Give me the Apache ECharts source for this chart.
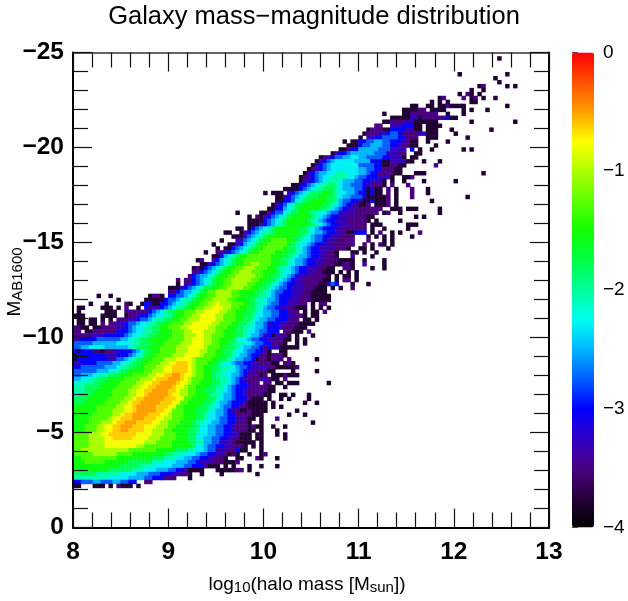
<!DOCTYPE html>
<html><head><meta charset="utf-8">
<style>html,body{margin:0;padding:0;background:#fff}#c{width:628px;height:601px}</style>
<script src="https://cdn.jsdelivr.net/npm/echarts@6/dist/echarts.min.js"></script>
</head><body><div id="c"></div>
<script>
// 120 x 120 histogram cells, one entry per row (row 0 = M -25).
// token = column + level letter. lowercase: run up to next token; UPPERCASE: single cell; ".": gap.
const levelValues = {a:-3.78,b:-3.5,c:-3.3,d:-3.0,e:-2.75,f:-2.5,g:-2.3,h:-2.05,i:-1.8,j:-1.55,k:-1.3,l:-1.02,m:-0.78,n:-0.62,o:-0.5,p:-0.44};
const rowRuns = [
"1|107A","5|97A 109A","6|106A","7|107A","8|102A 103B 109A 111A","9|100A 103A",
"10|97A 99B 100A 102A","11|92A 93B 98B 100A 101B 103A 106A","12|90A 92A 94A 100a 102.",
"13|85a 87. 89a 91. 92a 94b 95a 99. 109A","14|83a 87b 89. 90a 92. 92a 94. 98A 100A 104A",
"15|78A 83a 85b 89b 91b 92. 94A 98A","16|80a 85c 87A 88b 92b 94D 95a 97.",
"17|78a 80b 84c 86a 89. 89a 92. 100A 111A","18|76b 78. 80c 83d 86a 88. 89a 93.",
"19|74a 75b 78a 80d 84c 86a 88. 89a 92. 95A 105A","20|73A 74b 77c 79d 80e 82d 83b 87c 89a 92. 96A",
"21|72A 74c 76d 78e 82d 84b 87. 89a 92. 99A","22|68A 70a 72d 74e 76f 78e 80d 83c 84b 85a 87. 89A 94A",
"23|69A 70a 72d 73e 75f 78e 80d 82c 83b 85a 87. 91A","24|67a 69b 70d 72f 77e 80c 84. 85D 87A 90A 98A 100A",
"25|65a 66c 67d 69e 70f 76e 79c 82b 84. 86a 88.","26|62a 63b 64c 65d 66e 68f 70g 72f 74e 78d 80c 83a 84. 85a 87.",
"27|61a 62c 63d 64e 65f 66g 71f 75d 78a 80c 84a 86. 88A 92A","28|60a 61c 62d 63e 64f 65g 72e 76d 78a 80b 82a 84. 91B",
"29|59a 60b 61c 62d 63e 64f 65g 72f 74e 76d 78b 81a 83.","30|58a 59c 60d 61e 62f 64g 66h 69g 72f 74e 75d 77b 81a 83. 86a 89. 103A",
"31|57a 58b 59c 60d 61e 62f 63g 65h 69g 71f 72e 74d 77c 80a 81. 83a 85B",
"32|57a 58c 60d 61e 62f 63g 64h 67g 68f 71e 73d 75c 78a 79. 80A 83A 88A 96A",
"33|55a 57d 59e 60f 61g 62h 64i 66h 67g 68f 70e 73d 74c 75b 78a 79. 80B 84B",
"34|53a 57d 58e 59f 60g 61h 63i 66h 67g 68f 71e 73d 74a 75d 76a 78. 79B 81A 85B 89A",
"35|48A 50a 53. 54c 55d 56e 57f 58g 59h 60i 63j 65i 66h 67g 69f 71e 72d 74a 75d 76a 78. 79B 81A 85B 89A",
"36|51a 53c 54d 55e 56f 57g 58h 59i 62j 64i 66h 67g 68f 70e 73d 74a 79B 81A 85B 99A",
"37|51a 53d 55e 56g 57h 58i 60j 64i 66h 67f 68e 70d 72c 73a 75d 76a 79B 81A 90A",
"38|50a 51c 52d 53e 54g 55h 56i 58j 63i 65h 66g 67f 68e 69d 70c 72a 74b 75. 76a 79B 81A",
"39|49a 51d 53f 54g 55h 56i 57j 62i 64h 65g 66f 67e 68d 69c 71b 78. 80a 83. 84a 87. 92A",
"40|41A 47a 49b 50d 51e 53g 54h 55i 57j 59i 60h 62g 64f 65e 67c 71b 77. 78A 79B 82A 92A",
"41|44A 46b 47a 48c 49d 50e 51f 52g 53h 54i 55j 60i 61h 62g 63f 64e 65d 67c 69b 74a 76. 86A 88A",
"42|44A 45a 47a 48d 49e 50f 51g 52h 53i 54j 59i 60h 61g 62f 63e 64d 66c 69b 74A 76A 82A",
"43|44a 47c 48d 49e 50f 51g 52h 53i 54j 59i 61h 62g 63f 64e 65d 67c 70b 74. 75a 78. 84a 87.",
"44|41a 43. 44A 45d 46e 47f 48g 49h 50i 51j 57i 59h 60g 61f 62e 63d 66c 68b 74. 75A 78A 84A",
"45|38a 40. 42A 43c 44d 45e 46f 47g 48h 50i 51j 57i 59h 60g 61f 63e 64d 66c 68b 69a 71d 74. 75A 77B 80A 82A 87B",
"46|40a 43c 44e 45f 46g 47h 48i 49j 56i 58h 59g 60f 61e 63d 65c 67b 71. 74A 76A 78A 80A 85A",
"47|37A 41c 43e 44f 45g 46h 47i 48j 50k 54j 56i 57h 58g 60f 61e 63d 64c 66b 71. 74B 78A 80A",
"48|35A 39a 41c 42d 43f 44g 45h 46i 47j 49k 54j 55i 56h 57g 59f 60e 61d 63c 65b 71. 73B 75A 77B 78A 80A",
"49|36A 38a 40d 41e 42f 43g 44h 45i 46j 48k 53j 54i 56h 57g 58f 59e 60d 62c 66b 69a 70. 72a 74. 75A 79A",
"50|33A 36b 38c 39d 40e 41f 42g 43h 44i 45j 47k 51j 54i 56h 57g 58f 59e 60d 62c 64b 66a 67. 70a 72. 73A 76A",
"51|35a 37d 38f 39g 40h 41i 42j 44k 50j 53i 55h 56g 57f 59e 60d 62c 64b 66a 67. 70C 75A",
"52|31A 32B 35B 36d 37f 38g 39h 40i 41j 43k 50j 52i 54h 55g 56f 58e 59d 61c 63b 67a 71. 73A 78a 79.",
"53|32a 34c 35d 36e 37f 38g 39h 40i 41j 43k 45l 47k 50j 52i 54h 55g 56f 58e 59d 61c 63b 66a 68b 70a 71. 73C 78A",
"54|30A 31B 32A 33d 34e 35f 36g 37h 38i 39j 41k 43l 46k 49j 51i 52h 54g 55f 56e 57d 59c 62b 64a 66. 68b 70a 71. 75A 78A",
"55|30b 32d 33e 34f 35g 36h 37i 38j 40k 42l 45k 48j 51i 52h 53g 55f 56e 57d 59c 61b 63a 66. 67A 69A 71A",
"56|29B 30d 31e 32f 34g 35h 36i 37j 39k 41l 46k 48j 50i 52h 53g 54f 55e 56d 57c 59b 64a 65. 66A 68a 70. 71A",
"57|26B 28b 30d 31e 32f 33g 34h 35i 36j 38k 40l 45k 47j 49i 51h 52g 53f 54e 55d 56c 58b 63a 65. 66A 68b 70. 71A",
"58|26A 28b 29c 30d 31e 32f 33g 34h 35i 36j 38k 40l 44k 46j 48i 50h 51g 52f 53e 54d 56c 58b 62a 64c 65e 66d 67. 70a 71. 74A",
"59|24a 27c 28d 29e 30f 31g 32h 33i 35j 37k 39l 43k 45j 47i 49h 50g 51f 52e 54d 55c 58b 61a 64. 65A 67A 70B",
"60|24b 26d 27e 28f 30g 31h 32i 33j 34k 36l 40k 42j 46i 48h 49g 50f 51e 53d 55c 58b 60a 64.",
"61|6A 9A 19A 20b 22A 24d 26e 28f 29g 30h 31i 32j 34k 36l 40k 42j 45i 47h 49g 50f 51e 52d 55c 57b 60a 65.",
"62|11A 18a 23d 24e 26f 27g 28h 30i 31j 33k 35l 39k 41j 44i 46h 48g 49f 51e 52d 54c 57b 60a 65.",
"63|4A 8A 13B 14A 17A 18d 20a 22d 24e 25f 26g 27h 29i 30j 32k 34l 36m 37l 40k 43j 45i 46h 48g 49f 50e 52d 54c 56b 59. 60A 62b 64.",
"64|1a 3. 7a 10. 11A 13B 16A 18d 19b 20c 22d 23e 24f 25g 26h 28i 29j 31k 33l 35m 38l 40k 42j 44i 46h 47g 48f 49e 51d 52c 54b 56a 59. 60A 62A 64A",
"65|1A 8a 11. 13b 19d 20e 21f 22g 23h 24i 26j 28k 31l 33m 37l 39k 41j 44i 46h 47g 48f 50e 52d 54c 55b 57. 58A 60a 62. 63B",
"66|0A 1a 3. 7a 11. 13A 14b 16c 17d 19e 20f 21g 23h 25i 26j 28k 30l 32m 36l 38k 41j 43i 45h 46g 48f 50e 52d 54c 56b 58a 59. 60a 62.",
"67|1a 3. 4a 6. 7A 9A 11b 14c 16d 17e 19f 20g 21h 23i 25j 27k 29l 32m 36l 38k 41j 43i 45h 46g 47f 49e 51d 54c 55b 57. 58a 60. 61A",
"68|1a 3. 4a 6. 7B 9b 11c 13d 14e 16f 17g 19h 21i 23j 25k 28l 30m 35l 37k 40j 42i 44h 45g 46f 48e 49c 50d 52c 54b 57a 61.",
"69|0b 2a 4. 5a 7b 11c 13d 14e 15f 16g 18h 20i 22j 24k 27l 29m 34l 36k 39j 41i 43h 45g 46f 48e 49d 52c 53b 56a 59.",
"70|0b 2. 3a 5b 11d 14e 15f 16g 18h 20i 22j 25k 28l 30m 33l 36k 38j 41i 43h 44g 46f 47e 49d 52. 53b 55a 56. 56a 58. 59B",
"71|0b 4c 8d 13e 14f 15g 17h 19i 21j 25k 28l 31m 33l 35k 38j 41i 43h 44g 45f 47e 48c 49d 50a 51c 53b 54a 55. 56A 60A",
"72|0c 2d 6e 12f 14g 15h 17i 19j 24k 28l 30m 33l 35k 37j 40i 41h 42g 44f 45e 47d 49c 51b 53a 55. 56A 58A",
"73|0e 5f 11g 15h 17i 20j 23k 27l 30m 33l 35k 37j 39i 41h 43g 45f 46e 48d 50b 53a 54. 56A 58A",
"74|0e 2f 4g 8f 14g 15h 16i 19j 22k 26l 29m 33l 34k 37j 39i 41h 42g 43f 45e 47d 48b 49d 50c 52a 57.",
"75|0d 1a 2d 3. 3d 5b 7a 8b 10c 12d 15e 16f 17h 18i 20j 22k 26l 29m 32l 34k 36j 38i 40h 41g 43f 44e 46d 48b 49a 50. 52a 54.",
"76|0a 1d 8c 11d 14e 15f 16g 17h 18i 19j 21k 25l 28m 32l 33k 36j 38i 40h 41g 42f 44e 45d 47b 49a 50b 53A",
"77|0a 1d 9c 11e 13f 14g 15h 16i 18j 20k 23l 26m 30l 31k 35j 37i 39h 40g 41f 43e 45d 46a 47b 49a 50b 53. 54B 61A",
"78|0c 2d 6e 10f 12g 13h 15i 17j 19k 22l 24m 26n 29m 30l 31k 34j 36i 37h 38g 40f 41e 43d 45c 47b 50a 52. 53b 55a 56.",
"79|0d 2e 8f 11g 12h 14i 16j 18k 21l 23m 25n 29m 30l 31k 33j 35i 37h 40g 41f 42e 44d 45c 49b 51a 56B",
"80|0e 6f 9g 11h 12i 14j 18k 20l 23m 25n 29m 30l 31k 33j 35i 37h 39g 41f 42e 43d 44c 46b 49a 51. 55A 61A",
"81|0e 2f 5g 7h 9i 12j 15k 19l 21m 23n 25o 27n 28m 30l 31k 33j 35i 36h 38g 40f 42e 43d 44b 47a 48b 49. 50a 53B 54a 57.",
"82|0f 2g 4h 6i 9j 13k 17l 20m 21n 24o 27n 28m 29l 30k 33j 35i 37h 39g 40f 41e 42d 43b 47c 49b 50a 52. 53B",
"83|0g 1h 5i 8j 12k 16l 18m 20n 22o 26n 27m 29l 30k 32j 35i 37h 39g 40f 41e 42d 44b 47. 48b 50. 51A 52A 54a 57. 64A",
"84|0h 3i 7j 11k 15l 17m 19n 21o 25n 26m 28l 29k 31j 34i 36h 38g 39f 40e 41d 44c 45b 49a 51. 53A",
"85|0h 3i 6j 10k 14l 16m 18n 20o 24n 26m 27l 29k 31j 33i 36h 38g 39f 40e 41d 43c 44b 49a 51.",
"86|0h 2i 5j 10k 14l 16m 18n 19o 24n 25m 27l 29k 31j 34i 35h 37g 38f 40e 41d 43c 44b 48a 50. 52a 54. 55A 59A",
"87|0i 4j 9k 13l 15m 16n 18o 23n 26m 28k 30j 34i 36h 37g 38f 40e 41d 44b 45a 48. 49A 52A 54A 59A",
"88|0i 3j 8k 12l 14m 15n 17o 22n 25m 27k 29j 33i 35h 36g 37f 39e 40d 43b 44a 49. 50A 58A 61A",
"89|0j 6k 11l 13m 15n 16o 21n 24m 26k 28j 32i 34h 36g 37f 38e 40d 42b 44a 49. 50A 52A",
"90|0j 6k 10l 13m 15n 16o 21n 23m 25k 28j 31i 34h 35g 36f 38e 39d 40b 42a 44b 45a 49. 56A",
"91|0j 5k 10l 12m 13n 15o 19n 22m 24l 25k 28j 31i 33h 34g 36f 38e 39d 41b 45a 48. 54A 58A",
"92|0j 4k 9l 10m 12n 15o 18n 21m 23l 25k 28j 31i 33h 34g 36f 37e 39d 41c 43b 44a 46. 47A 51B",
"93|0j 4k 7l 10m 11n 13o 16n 20m 22l 24k 27j 30i 31h 33g 35f 37e 39d 41b 44a 45. 47A 60A",
"94|0j 3k 6l 8m 10n 12o 15n 18m 21l 24k 26j 30i 32g 34f 36e 38d 40c 41b 44a 45b 46a 48. 50A 53A",
"95|0j 3k 6l 8m 10n 12o 14n 18m 20l 23k 25j 29i 31h 32g 34f 36e 38d 40c 41b 44a 46. 47A 51A",
"96|0k 4l 7m 9n 16m 20l 23k 26j 29i 31h 32g 34f 36e 38d 40c 42a 45. 46a 48. 51A 53A",
"97|0k 4l 8m 10n 15m 19l 22k 26j 29i 31g 33f 35e 37d 39c 41b 42a 45. 46a 48. 53A",
"98|0k 4l 8m 18l 21k 25j 29i 31h 33f 35e 37c 40b 41a 46. 47A",
"99|0k 4l 8m 16l 18k 25j 30i 31g 33f 34e 36d 38c 40b 43a 44. 45A 47A",
"100|0k 2l 14k 21j 26i 29h 31g 33f 34e 36c 39b 41d 42a 44. 47A",
"101|0k 5l 11k 15j 23i 25h 28g 31f 32e 34d 36c 38b 39a 40b 41a 42. 44A 47A 48B",
"102|0j 2k 11j 20i 23h 26g 28f 30e 32d 34c 36b 38a 39. 41a 43. 46B 47A 51A",
"103|0j 3k 8j 14i 20h 23g 26f 29e 31d 32c 35b 38a 41B",
"104|0j 12i 17h 20g 25f 28e 30d 33b 34a 37. 38A 40A 44A 47A 51A",
"105|0j 9i 15h 18g 21f 24e 26d 28c 29a 33. 36A 37a 41b 43. 44A",
"106|0i 6h 12g 16f 19e 22d 25c 27b 29a 30. 32A 37A 46A",
"107|0h 9g 14f 18e 20d 23b 26. 29A",
"108|0d 2e 5f 7e 10f 12e 14d 16. 18b 20.",
"109|0a 2. 5a 8. 9A 11b 12a 15. 16A"
];
const xTickLabels = [8,9,10,11,12,13];
const yTickLabels = [-25,-20,-15,-10,-5,0];
const colorbarTicks = [-4,-3,-2,-1,0];
const paletteStops = ['#000000','#26003a','#4b0082','#3000c8','#0000ff','#005eff','#00b5ff','#00fff0','#00ff9c','#00ff45','#10ff00','#5eff00','#adff00','#ffff00','#ff9f00','#ff5000','#ff0000'];
const N = 120;
const xBins = Array.from({length:N},(_,i)=>i);
const yBins = Array.from({length:N},(_,i)=>i);

const cells = [];
rowRuns.forEach(s=>{
  const [r,body] = s.split('|');
  const toks = body.trim().split(/\s+/).map(t=>{const m=t.match(/^(\d+)(.)$/);return {c:+m[1],l:m[2]};});
  toks.forEach((t,i)=>{
    if(t.l==='.') return;
    if(t.l===t.l.toUpperCase()){cells.push([t.c,+r,levelValues[t.l.toLowerCase()]]);return;}
    const end = i+1<toks.length?toks[i+1].c:t.c+1;
    for(let c=t.c;c<end;c++) cells.push([c,+r,levelValues[t.l]]);
  });
});

const FONT='"Liberation Sans",Arial,sans-serif';
const minus = v=> v<0 ? '\u2212'+(-v) : String(v);
const tick = {show:true,inside:true,length:19,lineStyle:{color:'#111',width:1.2}};
const minor = {show:true,splitNumber:5,length:15,lineStyle:{color:'#111',width:1.2}};
const line = {show:true,onZero:false,lineStyle:{color:'#000',width:2}};
const off = {show:false};
const nameRich = {m:{fontFamily:FONT,fontSize:19,color:'#000'},s:{fontFamily:FONT,fontSize:15,color:'#000',verticalAlign:'bottom',padding:[6,0,0,0]}};
const chart = echarts.init(document.getElementById('c'),null,{renderer:'canvas'});
chart.setOption({
  animation:false,
  backgroundColor:'#fff',
  textStyle:{fontFamily:FONT},
  title:{text:'Galaxy mass\u2212magnitude distribution',left:309,top:-1,textAlign:'center',
    textStyle:{fontFamily:FONT,fontWeight:'normal',fontSize:25.5,color:'#000'}},
  grid:[{left:73,top:52.5,width:476,height:475,outerBoundsMode:'none'},
        {left:572,top:52.5,width:22,height:475,outerBoundsMode:'none'}],
  xAxis:[
    {type:'category',data:xBins,gridIndex:0,show:false},
    {type:'value',gridIndex:0,position:'bottom',min:8,max:13,interval:1,z:10,
     axisLine:line,axisTick:tick,minorTick:minor,splitLine:off,minorSplitLine:off,
     axisLabel:{fontFamily:FONT,fontWeight:'bold',fontSize:24.5,color:'#000',margin:12,formatter:v=>xTickLabels.includes(v)?String(v):''}},
    {type:'value',gridIndex:0,position:'top',min:8,max:13,interval:1,z:10,
     axisLine:{show:true,onZero:false,lineStyle:{color:'#333',width:1.5}},axisTick:tick,minorTick:minor,splitLine:off,minorSplitLine:off,axisLabel:off},
    {type:'value',gridIndex:1,min:0,max:1,show:false}
  ],
  yAxis:[
    {type:'category',data:yBins,gridIndex:0,inverse:true,show:false},
    {type:'value',gridIndex:0,position:'left',inverse:true,min:-25,max:0,interval:5,z:10,
     axisLine:line,axisTick:tick,minorTick:minor,splitLine:off,minorSplitLine:off,
     axisLabel:{fontFamily:FONT,fontWeight:'bold',fontSize:24.5,color:'#000',margin:9,formatter:v=>yTickLabels.includes(v)?minus(v):''}},
    {type:'value',gridIndex:0,position:'right',inverse:true,min:-25,max:0,interval:5,z:10,
     axisLine:line,axisTick:tick,minorTick:minor,splitLine:off,minorSplitLine:off,axisLabel:off},
    {type:'value',gridIndex:1,position:'right',min:-4,max:0,interval:1,
     axisLine:off,splitLine:off,
     axisTick:{show:true,inside:false,length:6,lineStyle:{color:'#333',width:1}},
     axisLabel:{fontFamily:FONT,fontSize:19,color:'#000',margin:9,formatter:v=>colorbarTicks.includes(v)?minus(v):''}}
  ],
  graphic:[
    {type:'text',x:307,y:585,style:{text:'{m|log}{s|10}{m|(halo mass [M}{s|sun}{m|])}',align:'center',verticalAlign:'middle',rich:nameRich}},
    {type:'text',x:15,y:282,rotation:Math.PI/2,style:{text:'{m|M}{s|AB1600}',align:'center',verticalAlign:'middle',rich:nameRich}}
  ],
  visualMap:{type:'continuous',seriesIndex:0,min:-4,max:0,calculable:false,hoverLink:false,
    left:572,top:52.5,padding:0,itemWidth:22,itemHeight:475,text:null,showLabel:false,
    inRange:{color:paletteStops}},
  series:[{type:'heatmap',xAxisIndex:0,yAxisIndex:0,data:cells,silent:true,progressive:0,z:2,
    itemStyle:{borderWidth:0},emphasis:{disabled:true}}]
});
</script></body></html>
